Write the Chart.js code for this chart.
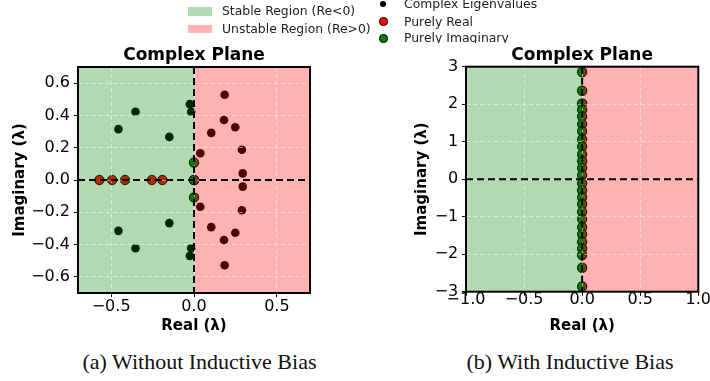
<!DOCTYPE html>
<html lang="en">
  <head>
    <meta charset="UTF-8" />
    <title>Complex Plane</title>
    <script src="https://cdn.jsdelivr.net/npm/chart.js@4.4.1/dist/chart.umd.min.js"></script>
    <style>
      body { margin: 0; width: 710px; height: 381px; background: #fff; position: relative; overflow: hidden; font-family: "DejaVu Sans", sans-serif; }
      canvas { position: absolute; top: 0; }
      #legend { position: absolute; left: 0; top: 0; width: 710px; height: 43px; overflow: hidden; z-index: 2; }
      .lt { position: absolute; font-size: 12.4px; line-height: 12.4px; color: #222; white-space: nowrap; }
      .patch { position: absolute; left: 188px; width: 24px; height: 8.5px; }
      .dot { position: absolute; border-radius: 50%; box-sizing: border-box; }
      .caption { position: absolute; top: 350.6px; font-family: "Liberation Serif", serif; font-size: 22px; line-height: 22px; color: #111; white-space: nowrap; transform: translateX(-50%); }
    </style>
  </head>

  <body>
    <div id="legend">
      <div class="patch" style="top:7.3px; background:rgb(179,217,179);"></div>
      <div class="lt" style="left:222px; top:5.2px;">Stable Region (Re&lt;0)</div>
      <div class="patch" style="top:24.5px; background:rgb(255,179,179);"></div>
      <div class="lt" style="left:222px; top:22.8px;">Unstable Region (Re&gt;0)</div>

      <div class="dot" style="left:380px; top:1.3px; width:6px; height:6px; background:#000;"></div>
      <div class="lt" style="left:404px; top:-1.8px;">Complex Eigenvalues</div>
      <div class="dot" style="left:379px; top:17.3px; width:8.5px; height:8.5px; background:#f00; border:1px solid #000;"></div>
      <div class="lt" style="left:404px; top:15.5px;">Purely Real</div>
      <div class="dot" style="left:379px; top:34.3px; width:8.5px; height:8.5px; background:#008000; border:1px solid #000;"></div>
      <div class="lt" style="left:404px; top:32.2px;">Purely Imaginary</div>
    </div>

    <canvas id="planeA" width="355" height="340" style="left:0;"></canvas>
    <canvas id="planeB" width="355" height="340" style="left:355px;"></canvas>

    <div class="caption" style="left:199.5px;">(a) Without Inductive Bias</div>
    <div class="caption" style="left:570px;">(b) With Inductive Bias</div>

    <script>
      // tick labels
      const xTicksA = [-0.5, 0, 0.5];
      const yTicksA = [-0.6, -0.4, -0.2, 0, 0.2, 0.4, 0.6];
      const xTicksB = [-1, -0.5, 0, 0.5, 1];
      const yTicksB = [-3, -2, -1, 0, 1, 2, 3];

      // (a) without inductive bias
      const aComplexRe = [-0.456, -0.456, -0.353, -0.353, -0.149, -0.149, -0.025, -0.025, -0.017, -0.017,
        0.185, 0.185, 0.181, 0.181, 0.249, 0.249, 0.104, 0.104, 0.038, 0.038, 0.289, 0.289, 0.294, 0.294];
      const aComplexIm = [0.315, -0.315, 0.423, -0.423, 0.267, -0.267, 0.47, -0.47, 0.423, -0.423,
        0.528, -0.528, 0.372, -0.372, 0.327, -0.327, 0.292, -0.292, 0.166, -0.166, 0.187, -0.187, 0.041, -0.041];
      const aRealRe = [-0.571, -0.494, -0.416, -0.254, -0.191, 0.0];
      const aImagIm = [0.108, 0.0, -0.108];

      // (b) with inductive bias: all purely imaginary
      const bImagIm = [2.86, 2.36, 2.02, 1.85, 1.67, 1.47, 1.28, 1.06, 0.87, 0.66, 0.48, 0.3, 0.11,
        -0.11, -0.3, -0.48, -0.66, -0.87, -1.06, -1.28, -1.47, -1.67, -1.85, -2.02, -2.36, -2.86];

      const onReal = (xs) => xs.map((x) => ({ x: x, y: 0 }));
      const onImag = (ys) => ys.map((y) => ({ x: 0, y: y }));
      const pairs = (xs, ys) => xs.map((x, i) => ({ x: x, y: ys[i] }));

      const font = "DejaVu Sans";

      // shaded half planes go over the points, then grid, zero lines and frame on top
      const planePlugin = {
        id: "plane",
        afterDatasetsDraw(chart) {
          const { ctx, chartArea: a, scales } = chart;
          const x0 = scales.x.getPixelForValue(0);
          ctx.save();
          ctx.fillStyle = "rgba(0,128,0,0.3)";
          ctx.fillRect(a.left, a.top, x0 - a.left, a.bottom - a.top);
          ctx.fillStyle = "rgba(255,0,0,0.3)";
          ctx.fillRect(x0, a.top, a.right - x0, a.bottom - a.top);
          ctx.restore();
        },
        afterDraw(chart) {
          const { ctx, chartArea: a, scales } = chart;
          const x0 = scales.x.getPixelForValue(0);
          const y0 = scales.y.getPixelForValue(0);
          ctx.save();
          ctx.strokeStyle = "#000";
          ctx.lineWidth = 2;
          ctx.setLineDash([7, 4]);
          ctx.beginPath();
          ctx.moveTo(a.left, y0);
          ctx.lineTo(a.right, y0);
          ctx.moveTo(x0, a.top);
          ctx.lineTo(x0, a.bottom);
          ctx.stroke();
          ctx.setLineDash([]);
          ctx.strokeRect(a.left, a.top, a.right - a.left, a.bottom - a.top);
          ctx.restore();
        },
      };

      function axis(min, max, ticks, dec, label, size, tickPad, titlePad) {
        return {
          type: "linear",
          min: min,
          max: max,
          afterBuildTicks: (s) => { s.ticks = ticks.map((v) => ({ value: v })); },
          afterFit: (s) => { if (s.isHorizontal()) s.height = size; else s.width = size; },
          grid: { color: "rgba(255,255,255,0.5)", lineWidth: 1, z: 1, tickColor: "#000", tickLength: 4, tickWidth: 1 },
          border: { display: false, dash: [4, 3] },
          ticks: {
            autoSkip: false,
            maxRotation: 0,
            padding: tickPad,
            color: "#000",
            font: { family: font, size: 16 },
            callback: (v) => v.toFixed(dec).replace("-", "\u2212"),
          },
          title: { display: true, text: label, color: "#000", font: { family: font, size: 15, weight: "bold" }, padding: titlePad },
        };
      }

      function makePlane(id, datasets, o) {
        return new Chart(document.getElementById(id), {
          type: "scatter",
          data: { datasets: datasets },
          options: {
            responsive: false,
            animation: false,
            devicePixelRatio: 1,
            layout: { padding: { left: 0, right: o.padRight, top: 0, bottom: 0 } },
            plugins: {
              legend: { display: false },
              tooltip: { enabled: false },
              title: {
                display: true,
                fullSize: false,
                text: "Complex Plane",
                color: "#000",
                font: { family: font, size: 17, weight: "bold" },
                padding: { top: 45.8, bottom: o.titleBottom },
              },
            },
            scales: {
              x: axis(o.xMin, o.xMax, o.xTicks, 1, "Real (λ)", o.xHeight, o.xTickPad, { top: 0, bottom: 5.3 }),
              y: axis(o.yMin, o.yMax, o.yTicks, o.yDec, "Imaginary (λ)", o.yWidth, o.yTickPad, { top: o.yTitleTop, bottom: 0 }),
            },
          },
          plugins: [planePlugin],
        });
      }

      function complexSet(data) {
        return { label: "Complex Eigenvalues", data: data, order: 3, pointRadius: 4.3, pointBorderWidth: 0,
          pointBackgroundColor: "#000", pointBorderColor: "#000" };
      }
      function realSet(data) {
        return { label: "Purely Real", data: data, order: 2, pointRadius: 4.7, pointBorderWidth: 1,
          pointBackgroundColor: "#ff0000", pointBorderColor: "#000" };
      }
      function imagSet(data) {
        return { label: "Purely Imaginary", data: data, order: 1, pointRadius: 4.6, pointBorderWidth: 1.2,
          pointBackgroundColor: "#008000", pointBorderColor: "#000" };
      }

      makePlane("planeA", [
        complexSet(pairs(aComplexRe, aComplexIm)),
        realSet(onReal(aRealRe)),
        imagSet(onImag(aImagIm)),
      ], {
        padRight: 45, titleBottom: 0.8,
        xMin: -0.7, xMax: 0.7, xTicks: xTicksA, xHeight: 47, xTickPad: 0.7,
        yMin: -0.7, yMax: 0.7, yTicks: yTicksA, yDec: 1, yWidth: 78, yTickPad: 4, yTitleTop: 11,
      });

      makePlane("planeB", [
        imagSet(onImag(bImagIm)),
      ], {
        padRight: 11.7, titleBottom: 0.5,
        xMin: -1, xMax: 1, xTicks: xTicksB, xHeight: 48.3, xTickPad: -5.8,
        yMin: -3, yMax: 3, yTicks: yTicksB, yDec: 0, yWidth: 111, yTickPad: 3.7, yTitleTop: 57.7,
      });
    </script>
  </body>
</html>
